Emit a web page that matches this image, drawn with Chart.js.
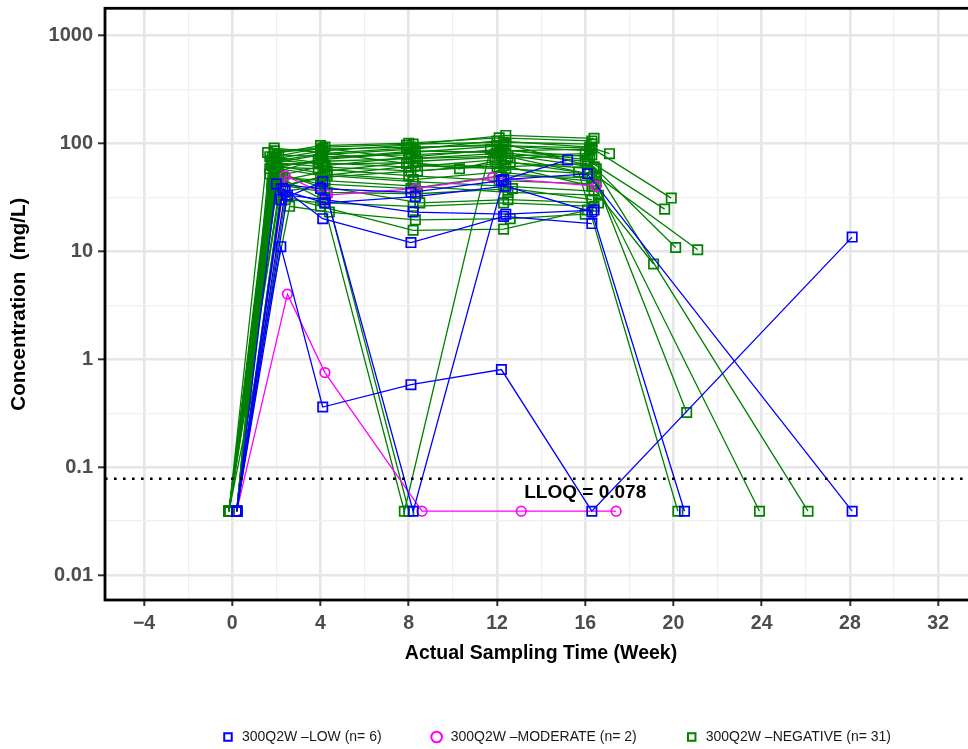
<!DOCTYPE html>
<html>
<head>
<meta charset="utf-8">
<script src="https://cdn.jsdelivr.net/npm/chart.js@4.4.1/dist/chart.umd.min.js"></script>
<style>
  html, body { margin: 0; padding: 0; background: #fff; overflow: hidden; }
  .viewport { width: 968px; height: 749px; overflow: hidden; }
  .wrap { position: relative; width: 1112px; height: 749px; }
</style>
</head>
<body>
<div class="viewport"><div class="wrap"><canvas id="pkChart"></canvas></div></div>
<script>
// ---- data (week, mg/L); BLQ samples plotted at LLOQ/2 ----
const groupNames = ["300Q2W \u2013LOW (n= 6)", "300Q2W \u2013MODERATE (n= 2)", "300Q2W \u2013NEGATIVE (n= 31)"];
const groupColors = ["#0000ff", "#ff00ff", "#008000"];
const groupMarkers = ["rect", "circle", "rect"];

const lowSubjects = [
  [[0.2, 0.039], [2.2, 11], [4.1, 0.36], [8.1, 0.58], [12.2, 0.8], [16.3, 0.039], [28.1, 13.5]],
  [[0.2, 0.039], [2.2, 30], [4.1, 44], [8.2, 0.039], [12.3, 46], [16.1, 52], [28.1, 0.039]],
  [[0.2, 0.039], [2.3, 38], [4.1, 20], [8.1, 12], [12.3, 21], [16.3, 18]],
  [[0.2, 0.039], [2.5, 33], [4.2, 30], [8.2, 23], [12.4, 22], [16.4, 24]],
  [[0.2, 0.039], [2.0, 42], [4.0, 38], [8.1, 35], [12.2, 45], [15.2, 70]],
  [[0.2, 0.039], [2.4, 36], [4.2, 28], [8.3, 32], [12.4, 40], [16.3, 23], [20.5, 0.039]]
];

const moderateSubjects = [
  [[0.2, 0.039], [2.5, 4.0], [4.2, 0.75], [8.6, 0.039], [13.1, 0.039], [17.4, 0.039]],
  [[0.2, 0.039], [2.4, 50], [4.3, 33], [8.3, 38], [11.8, 48], [16.5, 40]]
];

const negativeSubjects = [
  [[-0.15, 0.039], [1.9, 80], [4.0, 95], [8.0, 100], [12.1, 112], [16.3, 105]],
  [[0.2, 0.039], [2.0, 72], [4.1, 85], [7.9, 96], [12.4, 118], [16.4, 111]],
  [[-0.15, 0.039], [1.8, 65], [4.0, 78], [8.2, 88], [12.0, 105], [16.2, 92], [17.1, 80]],
  [[0.2, 0.039], [1.7, 58], [3.9, 70], [8.1, 82], [12.3, 95], [16.3, 90], [19.9, 31]],
  [[-0.15, 0.039], [2.1, 50], [4.2, 62], [8.3, 75], [12.2, 88], [16.1, 70], [19.6, 24.5]],
  [[0.2, 0.039], [1.9, 85], [4.1, 90], [8.0, 72], [12.0, 80], [16.4, 60], [20.1, 10.8]],
  [[-0.15, 0.039], [2.2, 45], [4.3, 55], [8.4, 68], [12.5, 75], [16.5, 50], [21.1, 10.3]],
  [[0.2, 0.039], [1.8, 38], [4.0, 48], [8.1, 55], [12.3, 62], [16.3, 40], [19.1, 7.6]],
  [[-0.15, 0.039], [2.0, 62], [4.2, 52], [8.2, 46], [12.1, 54], [16.5, 44], [20.6, 0.32]],
  [[0.2, 0.039], [1.7, 75], [3.9, 66], [8.0, 60], [11.9, 70], [15.7, 54], [20.2, 0.039]],
  [[-0.15, 0.039], [2.1, 55], [4.1, 72], [8.3, 85], [12.2, 82], [16.0, 68], [23.9, 0.039]],
  [[0.2, 0.039], [1.9, 68], [4.0, 80], [7.9, 90], [12.4, 98], [16.4, 60], [26.1, 0.039]],
  [[-0.15, 0.039], [2.0, 50], [4.1, 30], [7.8, 0.039], [11.7, 88], [16.2, 75]],
  [[0.2, 0.039], [1.9, 55], [4.2, 38], [8.0, 0.039]],
  [[-0.15, 0.039], [1.8, 42], [4.3, 35], [8.4, 34], [12.7, 38], [16.3, 30]],
  [[0.2, 0.039], [2.4, 30], [4.2, 28], [8.2, 26], [12.3, 28], [16.4, 26]],
  [[-0.15, 0.039], [2.6, 26], [4.4, 23], [8.3, 19.5], [12.6, 20], [16.0, 22]],
  [[0.2, 0.039], [2.2, 33], [4.0, 26], [8.2, 15.6], [12.3, 16], [16.1, 24]],
  [[-0.15, 0.039], [1.6, 82], [4.0, 88], [8.1, 92], [12.0, 95], [16.2, 85]],
  [[0.2, 0.039], [1.8, 70], [4.1, 64], [8.2, 66], [10.3, 58], [12.4, 72], [16.3, 78]],
  [[-0.15, 0.039], [2.0, 60], [3.9, 58], [8.0, 50], [12.1, 45], [16.4, 42]],
  [[0.2, 0.039], [2.3, 48], [4.2, 45], [8.3, 40], [12.5, 35], [16.6, 33]],
  [[-0.15, 0.039], [1.7, 52], [4.0, 42], [8.1, 38], [12.2, 50], [16.3, 48]],
  [[0.2, 0.039], [2.1, 78], [4.1, 75], [8.0, 78], [12.1, 85], [16.2, 88]],
  [[-0.15, 0.039], [1.9, 90], [4.0, 82], [7.9, 65], [12.0, 60], [16.1, 65]],
  [[0.2, 0.039], [2.0, 66], [4.2, 60], [8.4, 55], [12.6, 66], [16.5, 58]],
  [[-0.15, 0.039], [2.2, 40], [4.3, 50], [8.2, 44], [12.3, 40], [16.4, 36]],
  [[0.2, 0.039], [1.8, 62], [4.1, 68], [8.1, 72], [12.2, 76], [16.0, 80]],
  [[-0.15, 0.039], [2.0, 35], [4.0, 40], [8.5, 28], [12.5, 30], [16.6, 28]],
  [[0.2, 0.039], [1.9, 75], [4.2, 92], [8.2, 98], [12.3, 102], [16.3, 98]],
  [[-0.15, 0.039], [2.1, 58], [4.1, 50], [8.3, 62], [12.4, 58], [16.2, 52]]
];

const xMajorTicks = [-4, 0, 4, 8, 12, 16, 20, 24, 28, 32];
const xMinorTicks = [-2, 2, 6, 10, 14, 18, 22, 26, 30];
const yMajorTicks = [0.01, 0.1, 1, 10, 100, 1000];
const yTickLabels = ["0.01", "0.1", "1", "10", "100", "1000"];
const yMinorTicks = [0.0316, 0.316, 3.16, 31.6, 316];

const lloq = 0.078;
const lloqLabel = "LLOQ = 0.078";
const lloqLabelAt = [16, 0.0575];

// ---- build chart ----
const FONT = '"Liberation Sans", Arial, sans-serif';

function makeDataset(subject, g) {
  return {
    data: subject.map(p => ({ x: p[0], y: p[1] })),
    showLine: true,
    borderColor: groupColors[g],
    backgroundColor: "rgba(0,0,0,0)",
    borderWidth: 1.3,
    pointStyle: groupMarkers[g],
    pointRadius: g === 1 ? 4.8 : 6.6,
    pointBorderWidth: 1.7,
    pointBorderColor: groupColors[g],
    pointBackgroundColor: "rgba(0,0,0,0)",
    tension: 0
  };
}

const datasets = [
  ...lowSubjects.map(s => makeDataset(s, 0)),
  ...moderateSubjects.map(s => makeDataset(s, 1)),
  ...negativeSubjects.map(s => makeDataset(s, 2))
];

const isMajorX = v => xMajorTicks.includes(v);
const isMajorY = v => yMajorTicks.includes(v);

// legend is centred on the whole figure, not only on the panel
const legendSpan = {
  id: "legendSpan",
  afterLayout(chart) {
    chart.legend.left = 0;
    chart.legend.right = chart.width;
    chart.legend.width = chart.width;
  }
};

const framePlugin = {
  id: "frame",
  afterDatasetsDraw(chart) {
    const { ctx, chartArea: a, scales } = chart;
    const y = scales.y.getPixelForValue(lloq);
    ctx.save();
    ctx.strokeStyle = "#000";
    ctx.lineWidth = 2.6;
    ctx.setLineDash([2.6, 6.4]);
    ctx.beginPath();
    ctx.moveTo(a.left, y);
    ctx.lineTo(a.right, y);
    ctx.stroke();
    ctx.setLineDash([]);

    ctx.font = "bold 19px " + FONT;
    ctx.fillStyle = "#000";
    ctx.textAlign = "center";
    ctx.textBaseline = "middle";
    ctx.fillText(lloqLabel, scales.x.getPixelForValue(lloqLabelAt[0]), scales.y.getPixelForValue(lloqLabelAt[1]));

    ctx.lineWidth = 2.8;
    ctx.strokeRect(a.left, a.top, a.right - a.left, a.bottom - a.top);
    ctx.restore();
  }
};

new Chart(document.getElementById("pkChart"), {
  type: "scatter",
  data: { datasets },
  plugins: [framePlugin, legendSpan],
  options: {
    responsive: true,
    maintainAspectRatio: false,
    animation: false,
    layout: { padding: { top: 7, right: 135, bottom: -5, left: 0 } },
    plugins: {
      tooltip: { enabled: false },
      legend: {
        position: "bottom",
        onClick: null,
        labels: {
          usePointStyle: true,
          boxHeight: 7.5,
          padding: 48,
          color: "#1a1a1a",
          font: { family: FONT, size: 14 },
          generateLabels: () => groupNames.map((name, i) => ({
            text: name,
            fillStyle: "rgba(0,0,0,0)",
            strokeStyle: groupColors[i],
            lineWidth: 2,
            pointStyle: groupMarkers[i],
            fontColor: "#1a1a1a",
            hidden: false,
            datasetIndex: i
          }))
        }
      }
    },
    scales: {
      x: {
        type: "linear",
        min: -5.77,
        max: 33.76,
        afterBuildTicks: s => {
          s.ticks = [...xMajorTicks, ...xMinorTicks].sort((a, b) => a - b).map(v => ({ value: v }));
        },
        afterFit: s => { s.height = 82; s.paddingLeft = 0; s.paddingRight = 0; },
        border: { display: false },
        grid: {
          color: c => isMajorX(c.tick.value) ? "#e6e6e6" : "#f0f0f0",
          lineWidth: c => isMajorX(c.tick.value) ? 2.6 : 1.2,
          tickLength: 6,
          tickColor: c => isMajorX(c.tick.value) ? "#333333" : "rgba(0,0,0,0)",
          tickWidth: 2
        },
        ticks: {
          autoSkip: false,
          maxRotation: 0,
          padding: 6,
          color: "#4d4d4d",
          font: { family: FONT, size: 19.5, weight: "bold" },
          callback: v => isMajorX(v) ? String(v).replace("-", "\u2212") : ""
        },
        title: {
          display: true,
          text: "Actual Sampling Time (Week)",
          color: "#000",
          font: { family: FONT, size: 19.5, weight: "bold" },
          padding: { top: 0, bottom: 17 }
        }
      },
      y: {
        type: "logarithmic",
        min: 0.00587,
        max: 1776,
        afterBuildTicks: s => {
          s.ticks = [...yMajorTicks, ...yMinorTicks].sort((a, b) => a - b).map(v => ({ value: v }));
        },
        afterFit: s => { s.width = 105; s.paddingTop = 0; s.paddingBottom = 0; },
        border: { display: false },
        grid: {
          color: c => isMajorY(c.tick.value) ? "#e6e6e6" : "#f0f0f0",
          lineWidth: c => isMajorY(c.tick.value) ? 2.6 : 1.2,
          tickLength: 7,
          tickColor: c => isMajorY(c.tick.value) ? "#333333" : "rgba(0,0,0,0)",
          tickWidth: 2
        },
        ticks: {
          autoSkip: false,
          padding: 5,
          color: "#4d4d4d",
          font: { family: FONT, size: 20, weight: "bold" },
          callback: v => {
            const i = yMajorTicks.indexOf(v);
            return i >= 0 ? yTickLabels[i] : "";
          }
        },
        title: {
          display: true,
          text: "Concentration  (mg/L)",
          color: "#000",
          font: { family: FONT, size: 20.5, weight: "bold" },
          padding: { top: 7, bottom: 0 }
        }
      }
    }
  }
});
</script>
</body>
</html>
